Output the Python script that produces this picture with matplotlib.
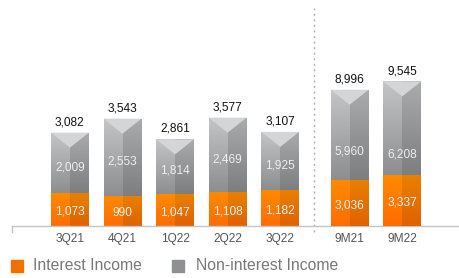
import numpy as np
import matplotlib.pyplot as plt
from matplotlib.colors import LinearSegmentedColormap
from matplotlib.patches import Rectangle

plt.rcParams['font.family'] = ['Liberation Sans', 'DejaVu Sans']

# data (THB m)
quarters = ["3Q21", "4Q21", "1Q22", "2Q22", "3Q22"]
q_interest = [1073, 990, 1047, 1108, 1182]
q_noninterest = [2009, 2553, 1814, 2469, 1925]
q_total = [3082, 3543, 2861, 3577, 3107]

nine_months = ["9M21", "9M22"]
m_interest = [3036, 3337]
m_noninterest = [5960, 6208]
m_total = [8996, 9545]

q_pos = np.arange(len(quarters))
m_pos = np.array([5.32, 6.32])
sep_x = 4.64

W, H = 459, 278
fig = plt.figure(figsize=(W / 100, H / 100), dpi=100)
base_px = 226
ax = fig.add_axes([0, (H - base_px) / H, 1, base_px / H])
ax.set_xlim(-1.33, 7.40)
ytop = 7460
ax.set_ylim(0, ytop)
ax2 = ax.twinx()
ax2.set_ylim(0, ytop * 2)
for a in (ax, ax2):
    for s in a.spines.values():
        s.set_visible(False)
    a.tick_params(left=False, right=False, bottom=False, top=False,
                  labelleft=False, labelright=False, labelbottom=False)

bw = 0.72
px_per_unit = ytop / base_px
fs = 8.6

gray_l = LinearSegmentedColormap.from_list("gl", ["#8c8e90", "#c3c5c7"])
gray_r = LinearSegmentedColormap.from_list("gr", ["#7c7e80", "#a9abad"])
orng_l = LinearSegmentedColormap.from_list("ol", ["#ff6c00", "#ff8a00"])
orng_r = LinearSegmentedColormap.from_list("or", ["#e06200", "#e88000"])
grad = np.linspace(0, 1, 64).reshape(-1, 1)


def grad_bar(a, x, bottom, height, cmap_l, cmap_r):
    for xl, cm in ((x - bw / 2, cmap_l), (x, cmap_r)):
        bars = a.bar(xl, height, bw / 2, bottom=bottom, align='edge',
                     color='none', linewidth=0)
        p = bars[0]
        im = a.imshow(grad, cmap=cm, origin='lower', aspect='auto',
                      extent=[xl, xl + bw / 2, bottom, bottom + height],
                      zorder=2)
        im.set_clip_path(p)


def draw_group(a, pos, inter, nonint, total, scale, inner_offsets):
    tri = 15 * px_per_unit * scale
    for i, x in enumerate(pos):
        grad_bar(a, x, 0, inter[i], orng_l, orng_r)
        grad_bar(a, x, inter[i], nonint[i], gray_l, gray_r)
        top = total[i]
        a.fill([x - bw / 2, x + bw / 2, x], [top, top, top - tri],
               color="#d3d5d6", lw=0, zorder=3)
        a.annotate(f"{total[i]:,}", (x, top), xytext=(0, 7.5),
                   textcoords='offset points', ha='center', va='center',
                   fontsize=fs, color='#111111')
        a.annotate(f"{inter[i]:,}", (x, inter[i] / 2), xytext=(0, -1.5),
                   textcoords='offset points', ha='center', va='center',
                   fontsize=fs, color='#f4f4f4', zorder=4)
        a.annotate(f"{nonint[i]:,}", (x, inter[i] + nonint[i] / 2),
                   xytext=(0, inner_offsets[i]), textcoords='offset points',
                   ha='center', va='center', fontsize=fs, color='#eeeeee',
                   zorder=4)


draw_group(ax, q_pos, q_interest, q_noninterest, q_total, 1, [-3] * 5)
draw_group(ax2, m_pos, m_interest, m_noninterest, m_total, 2, [-12, -19])

# category labels
for x, lab in zip(list(q_pos) + list(m_pos), quarters + nine_months):
    ax.annotate(lab, (x, 0), xytext=(0, -9.5), textcoords='offset points',
                ha='center', va='center', fontsize=fs, color='#555555')

# baseline, left tick and separator
ax.plot([-1.10, 7.40], [0, 0], color='#c4c4c4', lw=1, clip_on=False, zorder=5)
ax.plot([-1.10, -1.10], [0, -6 * px_per_unit], color='#c4c4c4', lw=1,
        clip_on=False)
ax.axvline(sep_x, ymin=-6 / base_px, ymax=218 / base_px, color='#b0b0b0',
           lw=1, ls=(0, (1.5, 2.5)), clip_on=False)

# legend
def fig_rect(x0, y0, w, h, color):
    fig.patches.append(Rectangle((x0 / W, 1 - (y0 + h) / H), w / W, h / H,
                                 transform=fig.transFigure, color=color))

fig_rect(11, 260, 12, 12, "#f07000")
fig.text(33 / W, 1 - 266 / H, "Interest Income", fontsize=11.3,
         color='#777777', va='center')
fig_rect(172, 260, 12, 12, "#8e9092")
fig.text(196 / W, 1 - 266 / H, "Non-interest Income", fontsize=11.3,
         color='#777777', va='center')

fig.savefig("out.png", dpi=100)
